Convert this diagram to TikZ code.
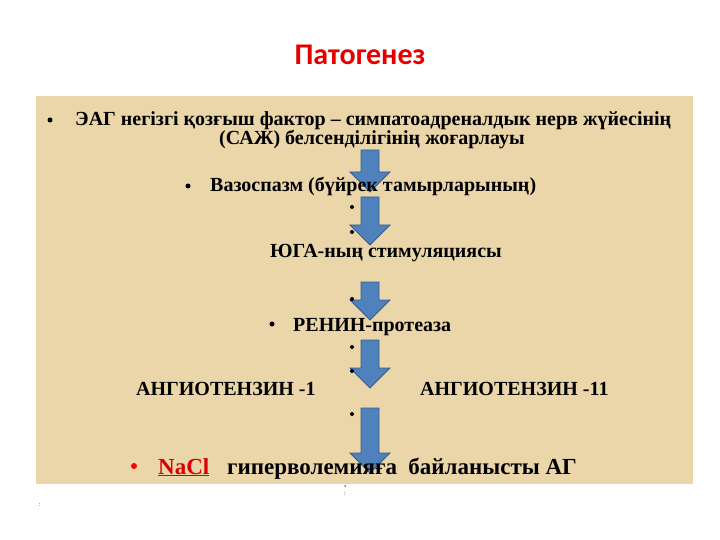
\documentclass[tikz,border=0pt]{standalone}
\usepackage{fontspec}
\setmainfont{Liberation Serif}
\newfontfamily\titlefont{Carlito}
\definecolor{arrblue}{HTML}{4F81BD}
\definecolor{arrline}{HTML}{385D8A}
\definecolor{panel}{HTML}{EBD6AA}
\begin{document}
\begin{tikzpicture}[x=1pt,y=-1pt,
  txt/.style={font=\bfseries\fontsize{20}{22}\selectfont, inner sep=0pt, anchor=base west},
  dotm/.style={circle, fill=black, inner sep=0pt, minimum size=4pt},
  barrow/.style={fill=arrblue, draw=arrline, line width=0.8pt}]
\useasboundingbox (0,0) rectangle (720,540);
\fill[white] (0,0) rectangle (720,540);
\fill[panel] (36,96) rectangle (693,484);
\node[font=\titlefont\bfseries\fontsize{30}{34}\selectfont, text=red!90!black] (title) at (360,55) {Патогенез};
\newcommand{\barr}[3]{\draw[barrow] (#1-9,#2) -- (#1+9,#2) -- (#1+9,#3-20) -- (#1+20,#3-20) -- (#1,#3) -- (#1-20,#3-20) -- (#1-9,#3-20) -- cycle;}
\barr{370}{150}{192}
\barr{370}{197}{245}
\barr{370}{282}{320}
\barr{370}{340}{388}
\barr{370}{408}{473}
\node[dotm, minimum size=5pt] (b1) at (50,120) {};
\node[txt] (t1) at (75,126) {ЭАГ негізгі қозғыш фактор – симпатоадреналдык нерв жүйесінің};
\node[txt, anchor=base] (t2) at (372,145) {(САЖ) белсенділігінің жоғарлауы};
\node[dotm, minimum size=5pt] (b2) at (188,186) {};
\node[txt] (t3) at (210,192) {Вазоспазм (бүйрек тамырларының)};
\node[dotm] (d1) at (352,207) {};
\node[dotm] (d2) at (352,232) {};
\node[txt] (t4) at (270,258) {ЮГА-ның стимуляциясы};
\node[dotm] (d3) at (352,299) {};
\node[dotm, minimum size=5pt] (b3) at (272,324) {};
\node[txt] (t5) at (293,331) {РЕНИН-протеаза};
\node[dotm] (d4) at (352,347) {};
\node[dotm] (d5) at (352,371) {};
\node[txt] (t6) at (136,395) {АНГИОТЕНЗИН -1};
\node[txt] (t7) at (420,395) {АНГИОТЕНЗИН -11};
\node[dotm] (d6) at (352,414) {};
\node[dotm, fill=red, minimum size=6pt] (b4) at (134,466) {};
\node[txt, font=\bfseries\fontsize{23}{25}\selectfont, text=red!85!black] (t8) at (158,474) {\underline{NaCl}};
\node[txt, font=\bfseries\fontsize{23}{25}\selectfont] (t9) at (227,474) {гиперволемияға\ \ байланысты АГ};
\node[dotm, minimum size=1.5pt] (e1) at (345,486) {};
\node[font=\fontsize{6}{6}\selectfont, inner sep=0pt] (e2) at (345,494) {:};
\node[font=\fontsize{6}{6}\selectfont, inner sep=0pt] (e3) at (40,505) {:};
\end{tikzpicture}
\end{document}
